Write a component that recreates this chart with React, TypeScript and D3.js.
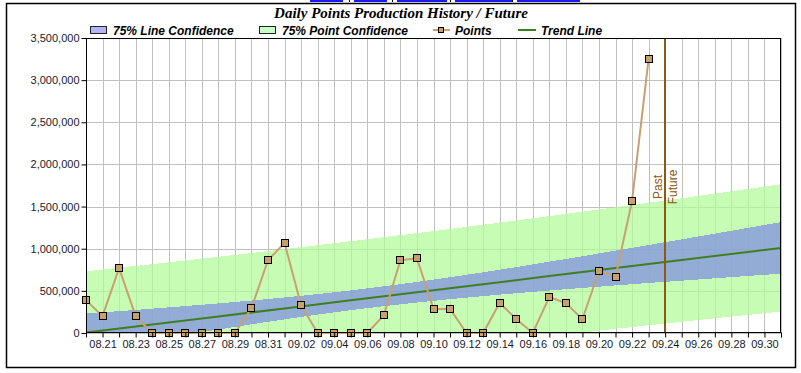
import React, { useEffect, useRef } from "react";
import * as d3 from "d3";

// daily points (past)
const pointDates = [
  "08.20", "08.21", "08.22", "08.23", "08.24", "08.25", "08.26", "08.27", "08.28", "08.29", "08.30", "08.31",
  "09.01", "09.02", "09.03", "09.04", "09.05", "09.06", "09.07", "09.08", "09.09", "09.10", "09.11", "09.12",
  "09.13", "09.14", "09.15", "09.16", "09.17", "09.18", "09.19", "09.20", "09.21", "09.22", "09.23",
];
const pointValues = [
  390000, 200000, 770000, 200000, 0, 0, 0, 0, 0, 0, 297000, 863000,
  1069000, 329000, 0, 0, 0, 0, 210000, 863000, 887000, 285000, 285000, 0,
  0, 356000, 166000, 0, 427000, 356000, 163000, 736000, 665000, 1568000, 3254000,
];

// trend + confidence bands, read at a few dates
const bandDates = ["08.20", "08.24", "08.28", "09.01", "09.05", "09.09", "09.13", "09.17", "09.21", "09.25", "09.29", "10.01"];
const trendValues = [5000, 101000, 196000, 292000, 388000, 484000, 579000, 675000, 771000, 866000, 962000, 1010000];
const lineUpper = [230000, 289000, 351000, 422000, 505000, 606000, 720000, 846000, 977000, 1111000, 1247000, 1316000];
const lineLower = [-220000, -87000, 41000, 162000, 271000, 362000, 438000, 504000, 565000, 621000, 677000, 704000];
const pointUpper = [731000, 817000, 904000, 995000, 1089000, 1185000, 1284000, 1387000, 1492000, 1599000, 1709000, 1766000];
const pointLower = [-721000, -615000, -512000, -411000, -313000, -217000, -126000, -37000, 50000, 133000, 215000, 254000];

const xTickLabels = [
  "08.21", "08.23", "08.25", "08.27", "08.29", "08.31", "09.02", "09.04", "09.06", "09.08", "09.10",
  "09.12", "09.14", "09.16", "09.18", "09.20", "09.22", "09.24", "09.26", "09.28", "09.30",
];
const yTicks = [0, 500000, 1000000, 1500000, 2000000, 2500000, 3000000, 3500000];
const xStart = "08.20";
const xEnd = "10.01";
const dividerDate = "09.24";
const legendLabels = ["75% Line Confidence", "75% Point Confidence", "Points", "Trend Line"];
const title = "Daily Points Production History / Future";

const parse = d3.timeParse("%m.%d");
const fmtDay = d3.timeFormat("%m.%d");

const App = () => {
  const ref = useRef<SVGSVGElement>(null);

  useEffect(() => {
    const svg = d3.select(ref.current);
    svg.selectAll("*").remove();

    const left = 86, right = 781, top = 38, bottom = 333;

    const x = d3.scaleTime().domain([parse(xStart)!, parse(xEnd)!]).range([left, right]);
    const y = d3.scaleLinear().domain([0, 3500000]).range([bottom, top]);

    // outer frame
    svg.append("rect").attr("x", 6.5).attr("y", 3.5).attr("width", 789).attr("height", 364)
      .attr("fill", "white").attr("stroke", "black").attr("stroke-width", 1.5);

    // cut-off links at the very top
    const links = [[310, 343], [354, 387], [397, 447], [455, 513], [517, 580]];
    links.forEach(([a, b], i) => {
      svg.append("rect").attr("x", a).attr("y", 0).attr("width", b - a).attr("height", 2).attr("fill", "#1a1aee");
      if (i > 0) svg.append("rect").attr("x", a - 5).attr("y", 0).attr("width", 1).attr("height", 2).attr("fill", "black");
    });

    // title
    svg.append("text").attr("x", 401).attr("y", 18).attr("text-anchor", "middle")
      .attr("font-family", "'Liberation Serif', 'Times New Roman', serif")
      .attr("font-weight", "bold").attr("font-style", "italic").attr("font-size", 15)
      .text(title);

    // legend
    const lg = svg.append("g").attr("font-family", "'Liberation Sans', Arial, sans-serif")
      .attr("font-weight", "bold").attr("font-style", "italic").attr("font-size", 12);
    lg.append("rect").attr("x", 90.5).attr("y", 26.5).attr("width", 16).attr("height", 7)
      .attr("fill", "#b4b4f6").attr("stroke", "#222");
    lg.append("text").attr("x", 113).attr("y", 35).text(legendLabels[0]);
    lg.append("rect").attr("x", 259.5).attr("y", 26.5).attr("width", 16).attr("height", 7)
      .attr("fill", "#c8ffc8").attr("stroke", "#222");
    lg.append("text").attr("x", 282).attr("y", 35).text(legendLabels[1]);
    lg.append("line").attr("x1", 433).attr("x2", 450).attr("y1", 30).attr("y2", 30)
      .attr("stroke", "#c8a072").attr("stroke-width", 2);
    lg.append("rect").attr("x", 438.5).attr("y", 27.5).attr("width", 5).attr("height", 5)
      .attr("fill", "#c8a06a").attr("stroke", "black");
    lg.append("text").attr("x", 455).attr("y", 35).text(legendLabels[2]);
    lg.append("line").attr("x1", 518).attr("x2", 536).attr("y1", 30).attr("y2", 30)
      .attr("stroke", "#3f7f1f").attr("stroke-width", 2);
    lg.append("text").attr("x", 541).attr("y", 35).text(legendLabels[3]);

    // grid
    const days = d3.timeDay.range(parse(xStart)!, d3.timeDay.offset(parse(xEnd)!, 1));
    svg.append("g").selectAll("line").data(days).enter().append("line")
      .attr("x1", (d) => Math.round(x(d)) + 0.5).attr("x2", (d) => Math.round(x(d)) + 0.5)
      .attr("y1", top).attr("y2", bottom).attr("stroke", "#c0c0c0");
    svg.append("g").selectAll("line").data(yTicks).enter().append("line")
      .attr("x1", left).attr("x2", right)
      .attr("y1", (d) => Math.round(y(d)) + 0.5).attr("y2", (d) => Math.round(y(d)) + 0.5)
      .attr("stroke", "#c0c0c0");

    svg.append("clipPath").attr("id", "plotclip").append("rect")
      .attr("x", left).attr("y", top).attr("width", right - left).attr("height", bottom - top);

    const plot = svg.append("g").attr("clip-path", "url(#plotclip)");

    const band = (hi: number[], lo: number[]) =>
      d3.area<number>()
        .x((i) => x(parse(bandDates[i])!))
        .y0((i) => y(lo[i]))
        .y1((i) => y(hi[i]))
        .curve(d3.curveMonotoneX)(d3.range(bandDates.length));

    plot.append("path").attr("d", band(pointUpper, pointLower))
      .attr("fill", "#b2fb98").attr("opacity", 0.72).attr("shape-rendering", "crispEdges");
    plot.append("path").attr("d", band(lineUpper, lineLower))
      .attr("fill", "#8497df").attr("opacity", 0.8).attr("shape-rendering", "crispEdges");

    // trend
    plot.append("path").datum(d3.range(bandDates.length))
      .attr("fill", "none").attr("stroke", "#3f7f1f").attr("stroke-width", 2)
      .attr("d", d3.line<number>().x((i) => x(parse(bandDates[i])!)).y((i) => y(trendValues[i])));

    // points
    svg.append("path").datum(d3.range(pointDates.length))
      .attr("fill", "none").attr("stroke", "#c8a072").attr("stroke-width", 2)
      .attr("d", d3.line<number>().x((i) => x(parse(pointDates[i])!)).y((i) => y(pointValues[i])));
    svg.append("g").selectAll("rect").data(d3.range(pointDates.length)).enter().append("rect")
      .attr("x", (i) => Math.round(x(parse(pointDates[i])!)) - 3.5)
      .attr("y", (i) => Math.round(y(pointValues[i])) - 3.5)
      .attr("width", 7).attr("height", 7)
      .attr("fill", "#c8a06a").attr("stroke", "black").attr("stroke-width", 1);

    // past / future divider
    const dx = Math.round(x(parse(dividerDate)!));
    svg.append("line").attr("x1", dx).attr("x2", dx).attr("y1", top).attr("y2", bottom)
      .attr("stroke", "#8b5a10").attr("stroke-width", 2);
    const dt = svg.append("g").attr("font-family", "'Liberation Sans', Arial, sans-serif")
      .attr("font-size", 12).attr("fill", "#8b5a10").attr("text-anchor", "middle");
    dt.append("text").attr("transform", `translate(${dx - 3},187) rotate(-90)`).text("Past");
    dt.append("text").attr("transform", `translate(${dx + 12},187) rotate(-90)`).text("Future");

    // plot frame
    svg.append("rect").attr("x", left + 0.5).attr("y", top + 0.5)
      .attr("width", right - left - 1).attr("height", bottom - top - 1)
      .attr("fill", "none").attr("stroke", "black");

    // axes
    const yAxis = svg.append("g").attr("transform", `translate(${left + 0.5},0)`)
      .call(d3.axisLeft(y).tickValues(yTicks).tickFormat(d3.format(",") as any).tickSize(5).tickSizeOuter(0).tickPadding(2));
    const xAxis = svg.append("g").attr("transform", `translate(0,${bottom - 0.5})`)
      .call(
        d3.axisBottom(x).tickValues(days).tickSize(5).tickSizeOuter(0).tickPadding(3)
          .tickFormat((d) => (xTickLabels.includes(fmtDay(d as Date)) ? fmtDay(d as Date) : "")) as any
      );
    [yAxis, xAxis].forEach((a) => {
      a.select(".domain").remove();
      a.selectAll("text").attr("font-family", "'Liberation Sans', Arial, sans-serif").attr("font-size", 11).attr("fill", "#1a1a2a");
      a.selectAll("line").attr("stroke", "black");
    });
  }, []);

  return (
    <div>
      <style>{"body{margin:0}"}</style>
      <svg ref={ref} width={801} height={373} style={{ display: "block" }}></svg>
    </div>
  );
};

export default App;
